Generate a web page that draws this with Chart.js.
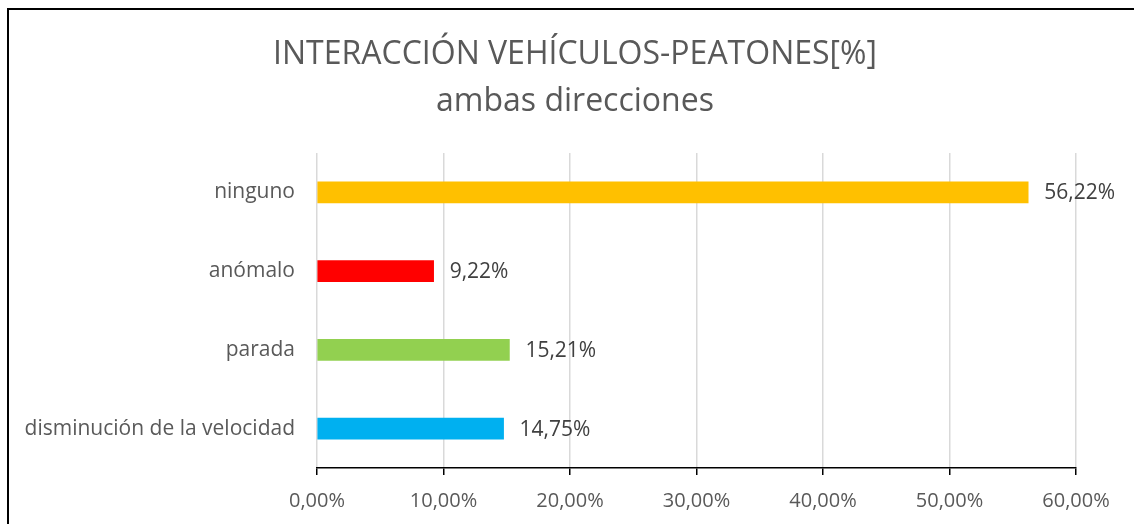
<!DOCTYPE html>
<html lang="es">
<head>
<meta charset="utf-8">
<title>Interacción vehículos-peatones</title>
<script src="https://cdn.jsdelivr.net/npm/chart.js@4.4.1/dist/chart.umd.min.js"></script>
<style>
  html, body { margin: 0; padding: 0; background: #fff; }
  #marco { position: relative; width: 1134px; height: 524px; overflow: hidden; }
  #borde { position: absolute; left: 7px; top: 8px; width: 1200px; height: 600px; border: 2px solid #000; box-sizing: border-box; }
  #contenedor { position: absolute; left: 0; top: 0; width: 1134px; height: 524px; }
</style>
</head>
<body>
<div id="marco">
  <div id="borde"></div>
  <div id="contenedor"><canvas id="grafico"></canvas></div>
</div>
<script>
// Datos: tipo de interacción y porcentaje en ambas direcciones
const categorias = ['ninguno', 'anómalo', 'parada', 'disminución de la velocidad'];
const porcentajes = [56.22, 9.22, 15.21, 14.75];
const colores = ['#FFC000', '#FF0000', '#92D050', '#00B0F0'];
const titulo = ['INTERACCIÓN VEHÍCULOS-PEATONES[%]', 'ambas direcciones'];
const ejeMin = 0, ejeMax = 60, ejePaso = 10;

const fuente = '"Open Sans", "Noto Sans", sans-serif';
const formatoPct = (v) => v.toFixed(2).replace('.', ',') + '%';

// Título en dos líneas, centrado sobre todo el recuadro
const tituloCentrado = {
  id: 'tituloCentrado',
  afterDraw(chart) {
    const ctx = chart.ctx;
    ctx.save();
    ctx.font = '32px ' + fuente;
    ctx.fillStyle = '#595959';
    ctx.textAlign = 'center';
    ctx.textBaseline = 'alphabetic';
    ctx.fillText(titulo[0], 575, 64);
    ctx.fillText(titulo[1], 575, 111);
    ctx.restore();
  }
};

// Etiquetas de valor al final de cada barra
const etiquetasValor = {
  id: 'etiquetasValor',
  afterDatasetsDraw(chart) {
    const ctx = chart.ctx;
    const meta = chart.getDatasetMeta(0);
    ctx.save();
    ctx.font = '21px ' + fuente;
    ctx.fillStyle = '#404040';
    ctx.textAlign = 'left';
    ctx.textBaseline = 'middle';
    meta.data.forEach((barra, i) => {
      ctx.fillText(formatoPct(porcentajes[i]), barra.x + 16, barra.y + 1);
    });
    ctx.restore();
  }
};

const ctx = document.getElementById('grafico').getContext('2d');
new Chart(ctx, {
  type: 'bar',
  data: {
    labels: categorias,
    datasets: [{
      data: porcentajes,
      backgroundColor: colores,
      borderWidth: 0,
      barThickness: 21
    }]
  },
  options: {
    indexAxis: 'y',
    responsive: true,
    maintainAspectRatio: false,
    animation: false,
    devicePixelRatio: 1,
    layout: { padding: { left: 0, right: 58, top: 153, bottom: 0 } },
    plugins: {
      legend: { display: false },
      tooltip: { enabled: false },
      title: { display: false }
    },
    scales: {
      x: {
        min: ejeMin,
        max: ejeMax,
        ticks: {
          stepSize: ejePaso,
          callback: (v) => formatoPct(v),
          color: '#595959',
          font: { family: fuente, size: 20 },
          padding: 14,
          maxRotation: 0
        },
        grid: {
          color: '#d9d9d9',
          lineWidth: 1.5,
          tickColor: '#000',
          tickLength: 7,
          tickWidth: 1.5
        },
        border: { display: true, color: '#000', width: 1.5 },
        afterFit: (escala) => { escala.height = 56; }
      },
      y: {
        ticks: {
          color: '#595959',
          font: { family: fuente, size: 21 },
          padding: 22
        },
        grid: { display: false, drawTicks: false },
        border: { display: false },
        afterFit: (escala) => { escala.width = 317; }
      }
    }
  },
  plugins: [tituloCentrado, etiquetasValor]
});
</script>
</body>
</html>
